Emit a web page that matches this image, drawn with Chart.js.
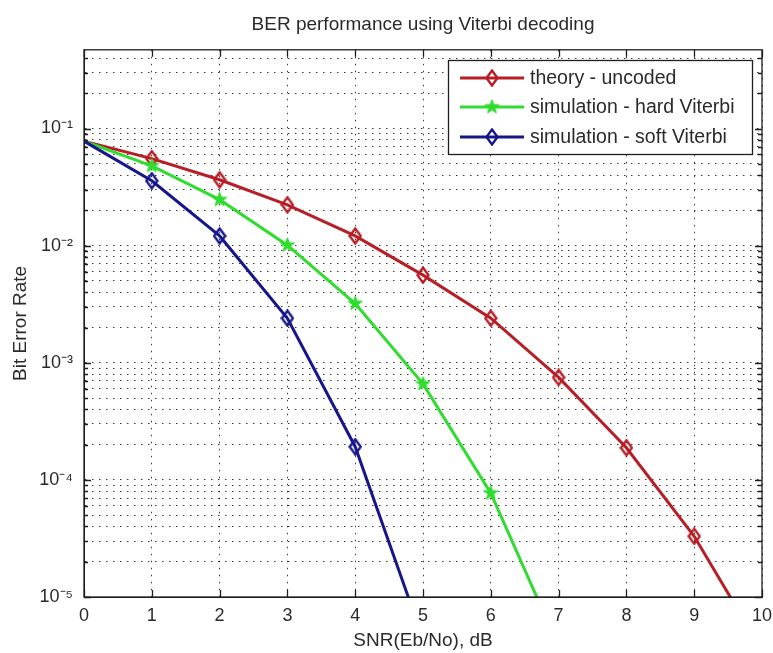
<!DOCTYPE html>
<html>
<head>
<meta charset="utf-8">
<title>BER performance using Viterbi decoding</title>
<script src="https://cdn.jsdelivr.net/npm/chart.js@4.4.1/dist/chart.umd.min.js"></script>
<style>
  html, body { margin: 0; padding: 0; background: #ffffff; }
  #wrap { width: 773px; height: 653px; }
</style>
</head>
<body>
<div id="wrap"><canvas id="chart-ber" width="773" height="653"></canvas></div>
<script>
// =============================================
// BER curves – uncoded vs hard / soft Viterbi
// =============================================

// ── Data ──
const snrDb      = [0, 1, 2, 3, 4, 5, 6, 7, 8, 9, 10];
const theoryBer  = [0.078, 0.0553, 0.0365, 0.0223, 0.0121, 0.0056, 0.0024, 0.00075, 0.000188, 0.000033, 0.0000035];
const hardBer    = [0.078, 0.048, 0.0247, 0.0101, 0.0032, 0.00066, 0.000077, 0.0000038];
const softBer    = [0.078, 0.0358, 0.0121, 0.0024, 0.000192, 0.0000044];
const seriesLabels = ["theory - uncoded", "simulation - hard Viterbi", "simulation - soft Viterbi"];

// tick layout for the log axis
const yDecades   = [-5, -4, -3, -2, -1];
const yMinorSig  = [1, 2, 3, 4, 5, 6, 7, 8, 9];
const yMin = 1e-5, yMax = 0.47;
const xMin = 0, xMax = 10;

const RED = "#b81e26";
const GREEN = "#2fdc2f";
const BLUE = "#17178c";
const GRID = "rgba(35,35,35,0.9)";
const FONT = '"Liberation Sans", Arial, Helvetica, sans-serif';

Chart.defaults.font.family = FONT;
Chart.defaults.color = "#2a2a2a";

const yTickValues = [];
yDecades.forEach(e => yMinorSig.forEach(s => {
  const v = s * Math.pow(10, e);
  if (v >= yMin && v <= yMax) yTickValues.push(v);
}));

const SUP = { "-": "\u207B", "0": "\u2070", "1": "\u00B9", "2": "\u00B2", "3": "\u00B3", "4": "\u2074", "5": "\u2075", "6": "\u2076", "7": "\u2077", "8": "\u2078", "9": "\u2079" };
const sup = n => String(n).split("").map(c => SUP[c]).join("");
const isDecade = v => Math.abs(Math.log10(v) - Math.round(Math.log10(v))) < 1e-9;

// ── Marker images ──
function diamondMarker(color) {
  const c = document.createElement("canvas");
  c.width = 14; c.height = 18;
  const g = c.getContext("2d");
  g.strokeStyle = color;
  g.lineWidth = 2.4;
  g.beginPath();
  g.moveTo(7, 1.5); g.lineTo(12.5, 9); g.lineTo(7, 16.5); g.lineTo(1.5, 9);
  g.closePath();
  g.stroke();
  return c;
}

function starMarker(color) {
  const c = document.createElement("canvas");
  c.width = 17; c.height = 17;
  const g = c.getContext("2d");
  g.fillStyle = color;
  g.strokeStyle = color;
  g.lineWidth = 1;
  g.beginPath();
  for (let i = 0; i < 10; i++) {
    const r = i % 2 === 0 ? 7.5 : 3.1;
    const a = -Math.PI / 2 + i * Math.PI / 5;
    const px = 8.5 + r * Math.cos(a), py = 8.5 + r * Math.sin(a);
    if (i === 0) g.moveTo(px, py); else g.lineTo(px, py);
  }
  g.closePath();
  g.fill();
  g.stroke();
  return c;
}

const markers = [diamondMarker(RED), starMarker(GREEN), diamondMarker(BLUE)];
const colors = [RED, GREEN, BLUE];

const toPoints = ys => ys.map((y, i) => ({ x: snrDb[i], y }));
// first point sits on the axis and carries no visible marker
const radii = ys => ys.map((_, i) => (i === 0 ? 0 : 6));

// ── Frame, inward ticks and legend (MATLAB look) ──
const matlabFrame = {
  id: "matlabFrame",
  afterDraw(chart) {
    const { ctx, chartArea: a, scales } = chart;
    ctx.save();
    ctx.strokeStyle = "#1e1e1e";
    ctx.lineWidth = 1.3;
    ctx.setLineDash([]);
    ctx.strokeRect(a.left, a.top, a.right - a.left, a.bottom - a.top);

    ctx.beginPath();
    for (let v = xMin; v <= xMax; v++) {
      const px = Math.round(scales.x.getPixelForValue(v)) + 0.5;
      ctx.moveTo(px, a.bottom); ctx.lineTo(px, a.bottom - 7);
      ctx.moveTo(px, a.top); ctx.lineTo(px, a.top + 7);
    }
    yTickValues.forEach(v => {
      const len = isDecade(v) ? 7 : 4;
      const py = Math.round(scales.y.getPixelForValue(v)) + 0.5;
      ctx.moveTo(a.left, py); ctx.lineTo(a.left + len, py);
      ctx.moveTo(a.right, py); ctx.lineTo(a.right - len, py);
    });
    ctx.stroke();

    // legend box
    const box = { left: 448, top: 60, right: 752, bottom: 154 };
    ctx.fillStyle = "#ffffff";
    ctx.fillRect(box.left, box.top, box.right - box.left, box.bottom - box.top);
    ctx.strokeStyle = "#1e1e1e";
    ctx.lineWidth = 1.3;
    ctx.strokeRect(box.left + 0.5, box.top + 0.5, box.right - box.left, box.bottom - box.top);
    const rows = [78, 107, 137];
    ctx.font = "19.5px " + FONT;
    ctx.textBaseline = "middle";
    ctx.textAlign = "left";
    seriesLabels.forEach((label, i) => {
      ctx.strokeStyle = colors[i];
      ctx.lineWidth = 3;
      ctx.beginPath();
      ctx.moveTo(460, rows[i]); ctx.lineTo(524, rows[i]);
      ctx.stroke();
      const m = markers[i];
      ctx.drawImage(m, 492 - m.width / 2, rows[i] - m.height / 2);
      ctx.fillStyle = "#2a2a2a";
      ctx.fillText(label, 530, rows[i] + 1);
    });
    ctx.restore();
  }
};

const ctx = document.getElementById("chart-ber").getContext("2d");
const berChart = new Chart(ctx, {
  type: "line",
  data: {
    datasets: [
      {
        label: seriesLabels[0],
        data: toPoints(theoryBer),
        borderColor: RED,
        backgroundColor: RED,
        borderWidth: 3,
        pointStyle: markers[0],
        pointRadius: radii(theoryBer),
        tension: 0,
        clip: 0,
        order: 3
      },
      {
        label: seriesLabels[1],
        data: toPoints(hardBer),
        borderColor: GREEN,
        backgroundColor: GREEN,
        borderWidth: 3,
        pointStyle: markers[1],
        pointRadius: radii(hardBer),
        tension: 0,
        clip: 0,
        order: 2
      },
      {
        label: seriesLabels[2],
        data: toPoints(softBer),
        borderColor: BLUE,
        backgroundColor: BLUE,
        borderWidth: 3,
        pointStyle: markers[2],
        pointRadius: radii(softBer),
        tension: 0,
        clip: 0,
        order: 1
      }
    ]
  },
  options: {
    responsive: false,
    animation: false,
    layout: { padding: { left: 0, right: 11, top: 0, bottom: 0 } },
    plugins: {
      legend: { display: false },
      tooltip: { enabled: false },
      title: {
        display: true,
        text: "BER performance using Viterbi decoding",
        fullSize: false,
        color: "#2a2a2a",
        font: { size: 19, weight: "normal" },
        padding: { top: 13, bottom: 14 }
      }
    },
    scales: {
      x: {
        type: "linear",
        min: xMin,
        max: xMax,
        afterFit: s => { s.height = 56; s.paddingLeft = 0; s.paddingRight = 0; },
        ticks: { stepSize: 1, padding: 8, font: { size: 18 }, color: "#2a2a2a" },
        grid: { color: GRID, lineWidth: 1, drawTicks: false },
        border: { display: true, color: "#1e1e1e", width: 1, dash: [1.5, 5.5] },
        title: {
          display: true,
          text: "SNR(Eb/No), dB",
          color: "#2a2a2a",
          font: { size: 19 },
          padding: { top: 0, bottom: 1 }
        }
      },
      y: {
        type: "logarithmic",
        min: yMin,
        max: yMax,
        afterFit: s => { s.width = 84; },
        afterBuildTicks: s => {
          s.ticks = yTickValues.map(v => ({ value: v, major: isDecade(v) }));
        },
        ticks: {
          autoSkip: false,
          padding: 11,
          font: { size: 18 },
          color: "#2a2a2a",
          callback: v => (isDecade(v) ? "10" + sup(Math.round(Math.log10(v))) : "")
        },
        grid: { color: GRID, lineWidth: 1, drawTicks: false },
        border: { display: true, color: "#1e1e1e", width: 1, dash: [1.5, 5.5] },
        title: {
          display: true,
          text: "Bit Error Rate",
          color: "#2a2a2a",
          font: { size: 19 },
          padding: { top: 9, bottom: 0 }
        }
      }
    }
  },
  plugins: [matlabFrame]
});
</script>
</body>
</html>
